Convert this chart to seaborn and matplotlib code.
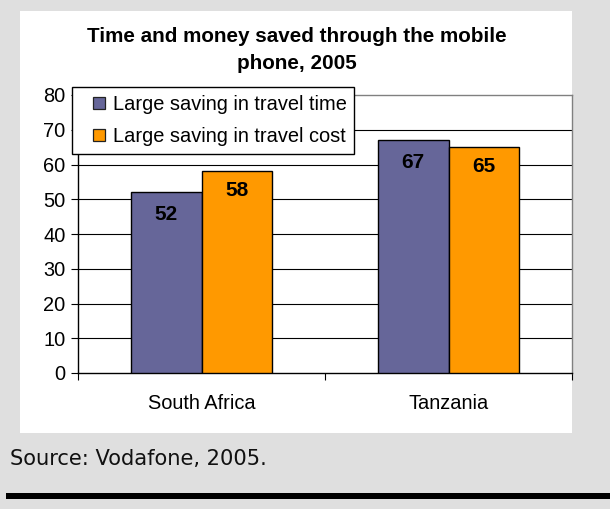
import matplotlib
matplotlib.use("Agg")
import matplotlib.pyplot as plt
import seaborn as sns
import pandas as pd
from matplotlib.patches import Rectangle
from matplotlib.lines import Line2D

# ---- data ----
countries = ["South Africa", "Tanzania"]
series = ["Large saving in travel time", "Large saving in travel cost"]
travel_time = [52, 67]
travel_cost = [58, 65]
colors = ["#666699", "#FF9900"]
y_ticks = [0, 10, 20, 30, 40, 50, 60, 70, 80]
title = "Time and money saved through the mobile\nphone, 2005"
source = "Source: Vodafone, 2005."

df = pd.DataFrame({
    "country": countries * 2,
    "series": [series[0]] * 2 + [series[1]] * 2,
    "value": travel_time + travel_cost,
})

sns.set_theme(style="white")
plt.rcParams["font.family"] = ["Liberation Sans", "DejaVu Sans"]
plt.rcParams["text.color"] = "black"
plt.rcParams["xtick.color"] = "black"
plt.rcParams["ytick.color"] = "black"
plt.rcParams["axes.labelcolor"] = "black"

W, H = 610, 509
fig = plt.figure(figsize=(W / 100, H / 100), dpi=100, facecolor="#DFDFDF")

# white panel and black rule
fig.patches.append(Rectangle((20 / W, 1 - 433 / H), 552 / W, 422 / H,
                             transform=fig.transFigure, facecolor="white",
                             edgecolor="none", zorder=-5))
fig.patches.append(Rectangle((6 / W, 1 - 499 / H), 604 / W, 6 / H,
                             transform=fig.transFigure, facecolor="black",
                             edgecolor="none", zorder=-5))

ax = fig.add_axes([78 / W, 1 - 373 / H, 494 / W, 278 / H])
ax.set_zorder(2)
ax.set_facecolor("white")

sns.barplot(data=df, x="country", y="value", hue="series", hue_order=series,
            order=countries, palette=colors, width=0.574, gap=0,
            edgecolor="black", linewidth=1.0, saturation=1, ax=ax,
            legend=False, zorder=3)

ax.set_xlim(-0.5, 1.5)
ax.set_ylim(0, 80)
ax.set_yticks(y_ticks)
ax.set_xlabel("")
ax.set_ylabel("")

# gridlines (black) except the top
for v in y_ticks[1:-1]:
    ax.axhline(v, color="black", linewidth=0.8, zorder=1)

for s in ["left", "bottom"]:
    ax.spines[s].set_color("black")
    ax.spines[s].set_linewidth(1.0)
for s in ["top", "right"]:
    ax.spines[s].set_color("#808080")
    ax.spines[s].set_linewidth(1.0)

ax.tick_params(axis="y", which="major", length=5, width=0.8, color="black",
               direction="out", pad=4, labelsize=14.4, left=True)
ax.set_xticks([-0.5, 0.5, 1.5], minor=True)
ax.tick_params(axis="x", which="minor", length=5, width=0.8, color="black",
               direction="out", bottom=True)
ax.tick_params(axis="x", which="major", length=0, pad=15, labelsize=14.4)

for cont, pad in zip(ax.containers, [-23, -20.5]):
    ax.bar_label(cont, fmt="%d", padding=pad, fontsize=15, fontweight="bold",
                 color="black", zorder=5)

# legend
handles = [Line2D([], [], linestyle="none", marker="s", markersize=8.5,
                  markerfacecolor=c, markeredgecolor="#222222",
                  markeredgewidth=0.9) for c in colors]
leg = ax.legend(handles, series, loc="upper left",
                bbox_to_anchor=(72 / W, 1 - 87 / H),
                bbox_transform=fig.transFigure, borderaxespad=0,
                fontsize=14.4, frameon=True, fancybox=False,
                edgecolor="black", framealpha=1, borderpad=0.4,
                handlelength=1.85, handletextpad=-0.22, labelspacing=0.65)
leg.get_frame().set_linewidth(1.0)
leg.set_zorder(10)

fig.text(297 / W, 1 - 50 / H, title, ha="center", va="center",
         fontsize=14.9, fontweight="bold", linespacing=1.5)

fig.text(10 / W, 1 - 465 / H, source, ha="left", va="baseline",
         fontsize=15.1, family=["DejaVu Sans"], color="#111111")

fig.savefig("out.png", dpi=100, facecolor=fig.get_facecolor())
